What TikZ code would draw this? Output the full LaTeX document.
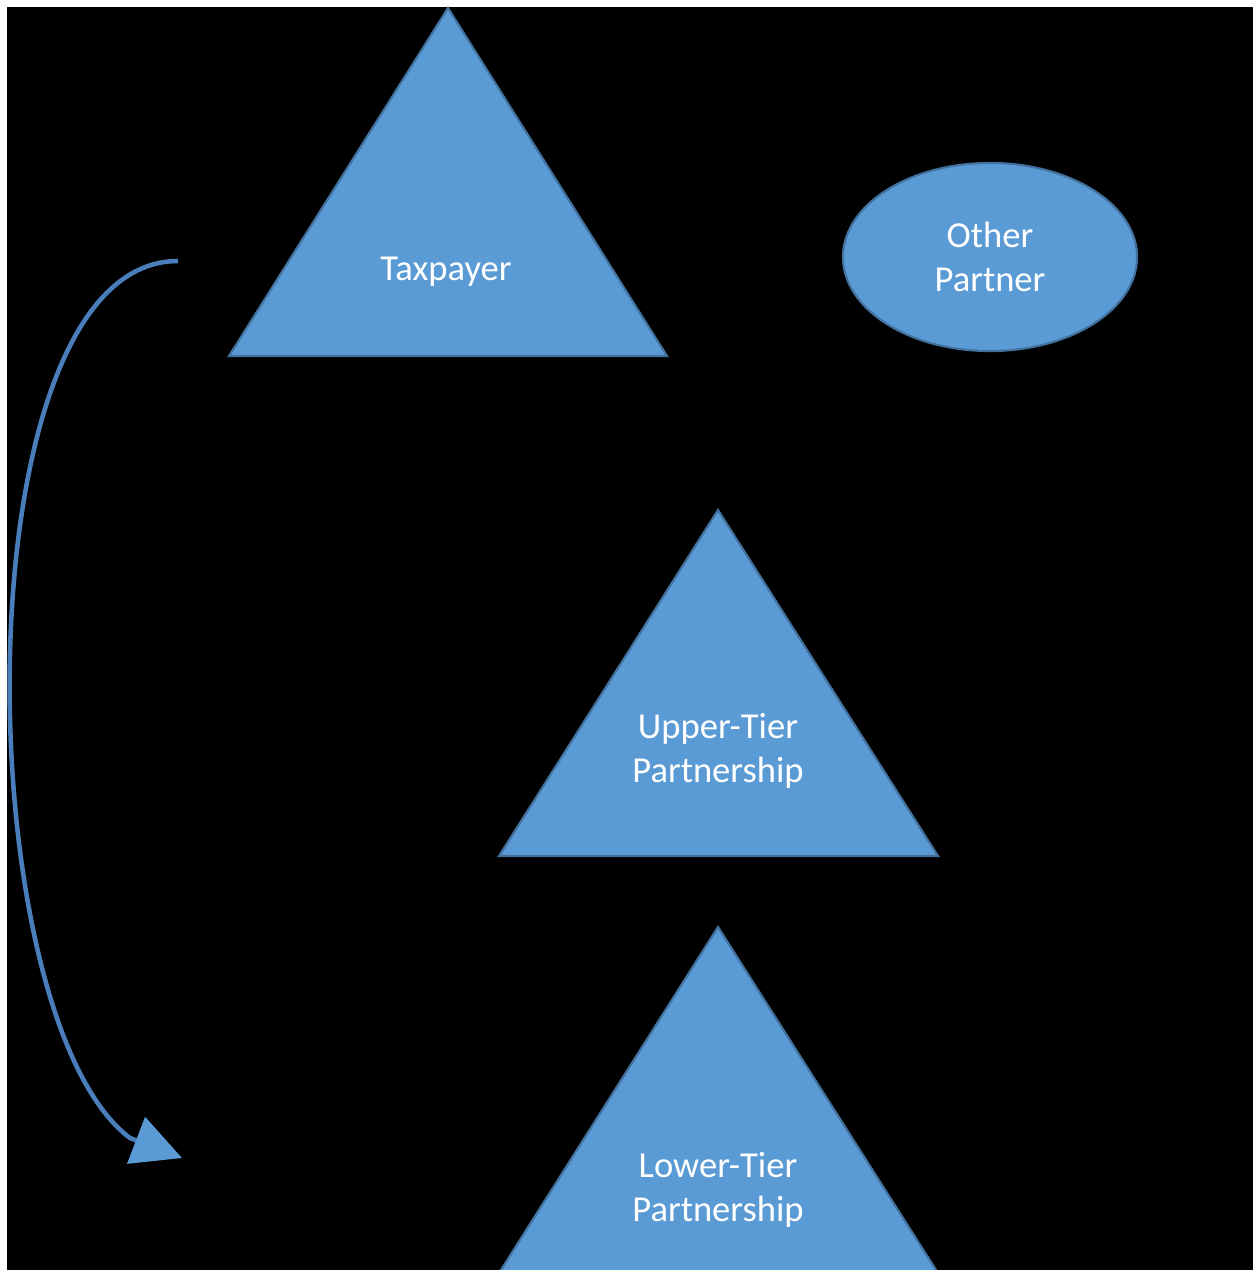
\documentclass[tikz,border=0pt]{standalone}
\usepackage{fontspec}
\setmainfont{Carlito}
\usetikzlibrary{arrows.meta,shapes.geometric}
\definecolor{shapefill}{HTML}{5B9BD5}
\definecolor{shapeline}{HTML}{41719C}
\definecolor{arrowline}{HTML}{4A7EBB}
\tikzset{
  shapebox/.style={fill=shapefill,draw=shapeline,line width=0.6pt,line join=miter},
  lbl/.style={text=white,align=center,font=\fontsize{10.4pt}{12.6pt}\selectfont,inner sep=0pt},
  curvearrow/.style={draw=arrowline,line width=1.3pt,-{Triangle[length=14pt,width=14pt,color=shapefill]}}
}
\begin{document}
\begin{tikzpicture}[x=0.01cm,y=-0.01cm]
\useasboundingbox (0,0) rectangle (1253,1270);
\fill[white] (0,0) rectangle (1253,1270);
\fill[black] (7,7) rectangle (1253,1270);
% Taxpayer triangle
\draw[shapebox] (448,8) -- (667,356) -- (229,356) -- cycle;
\node[lbl] (tax) at (446,272) {Taxpayer};
% Other partner ellipse
\node[shapebox,lbl,ellipse,minimum width=2.94cm,minimum height=1.88cm] (other) at (990,257) {Other\\Partner};
% Upper tier
\draw[shapebox] (718,510) -- (938,856) -- (499,856) -- cycle;
\node[lbl] (upper) at (718,751) {Upper-Tier\\Partnership};
% Lower tier
\begin{scope}
\clip (7,7) rectangle (1253,1270);
\draw[shapebox] (718,927) -- (938,1273) -- (499,1273) -- cycle;
\end{scope}
\node[lbl] (lower) at (718,1190) {Lower-Tier\\Partnership};
% curved arrow
\coordinate (astart) at (178,261);
\coordinate (abend) at (130,1138);
\coordinate (aend) at (182,1158);
\draw[curvearrow] (astart) .. controls (-42,261) and (-34,1015) .. (abend) -- (aend);
\end{tikzpicture}
\end{document}
